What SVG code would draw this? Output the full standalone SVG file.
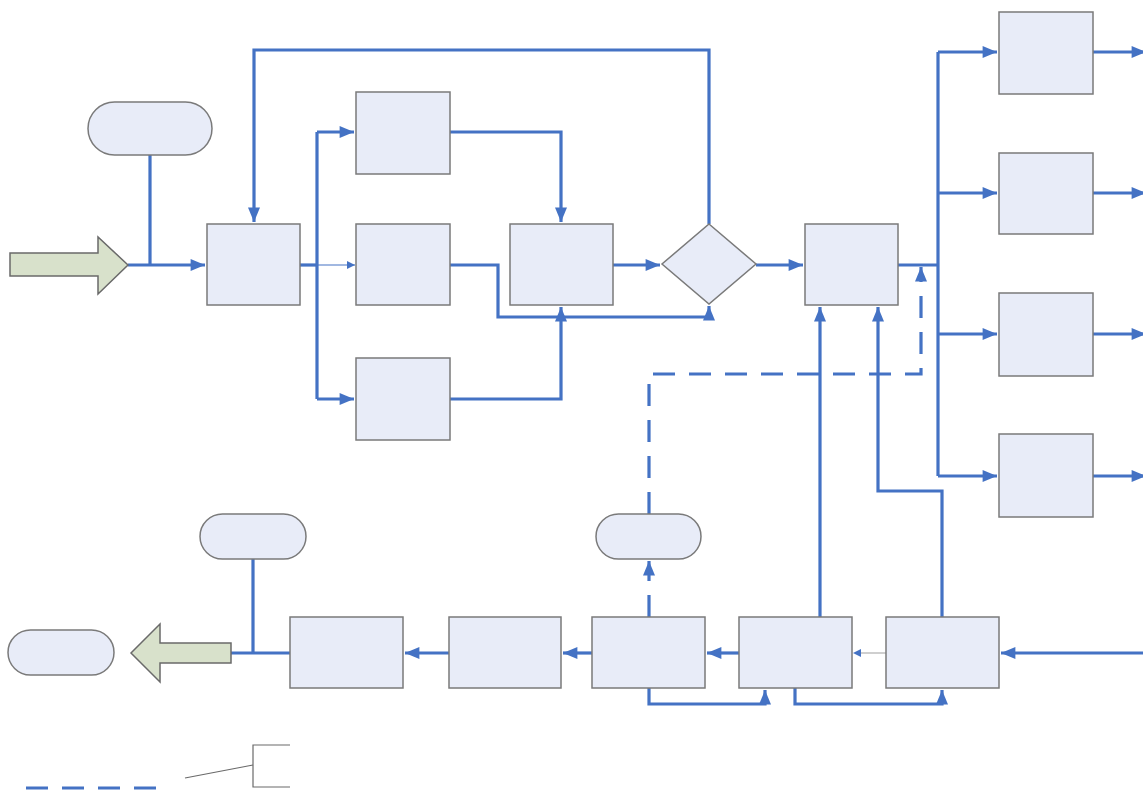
<svg xmlns="http://www.w3.org/2000/svg" width="1143" height="795" viewBox="0 0 1143 795">
<style>
.box{fill:#E8ECF8;stroke:#7a7a7a;stroke-width:1.5}
.big{fill:#D8E1CB;stroke:#6a6a6a;stroke-width:1.5}
.c{fill:none;stroke:#4472C4;stroke-width:3.2}
.thin{fill:none;stroke:#4472C4;stroke-width:1.2}
.gray{fill:none;stroke:#BFBFBF;stroke-width:1.5}
.d{fill:none;stroke:#4472C4;stroke-width:3.2;stroke-dasharray:22,14}
.leg{fill:none;stroke:#6a6a6a;stroke-width:1.2}
</style>
<defs>
<marker id="a" viewBox="0 0 12 10" refX="12" refY="5" markerWidth="15" markerHeight="12" markerUnits="userSpaceOnUse" orient="auto"><path d="M0,0 L12,5 L0,10 Z" fill="#4472C4"/></marker>
<marker id="s" viewBox="0 0 8 8" refX="8" refY="4" markerWidth="8" markerHeight="8" markerUnits="userSpaceOnUse" orient="auto"><path d="M0,0 L8,4 L0,8 Z" fill="#4472C4"/></marker>
</defs>
<rect width="1143" height="795" fill="#fff"/>
<g id="connectors">
<path class="c" d="M128,265 H205" marker-end="url(#a)"/>
<path class="c" d="M150,155 V265"/>
<path class="c" d="M709,224 V50 H254 V222" marker-end="url(#a)"/>
<path class="c" d="M300,265 H317"/>
<path class="thin" d="M317,265 H355" marker-end="url(#s)"/>
<path class="c" d="M317,132 V399"/>
<path class="c" d="M317,132 H354" marker-end="url(#a)"/>
<path class="c" d="M317,399 H354" marker-end="url(#a)"/>
<path class="c" d="M450,132 H561 V222" marker-end="url(#a)"/>
<path class="c" d="M450,265 H498 V317 H709 V306" marker-end="url(#a)"/>
<path class="c" d="M450,399 H561 V307" marker-end="url(#a)"/>
<path class="c" d="M613,265 H660" marker-end="url(#a)"/>
<path class="c" d="M756,265 H803" marker-end="url(#a)"/>
<path class="c" d="M898,265 H938"/>
<path class="c" d="M938,52 V476"/>
<path class="c" d="M938,52 H997" marker-end="url(#a)"/>
<path class="c" d="M938,193 H997" marker-end="url(#a)"/>
<path class="c" d="M938,334 H997" marker-end="url(#a)"/>
<path class="c" d="M938,476 H997" marker-end="url(#a)"/>
<path class="c" d="M1093,52 H1146" marker-end="url(#a)"/>
<path class="c" d="M1093,193 H1146" marker-end="url(#a)"/>
<path class="c" d="M1093,334 H1146" marker-end="url(#a)"/>
<path class="c" d="M1093,476 H1146" marker-end="url(#a)"/>
<path class="c" d="M1143,653 H1001" marker-end="url(#a)"/>
<path class="gray" d="M886,653 H860"/>
<path d="M861,649 L853,653 L861,657 Z" fill="#4472C4"/>
<path class="c" d="M739,653 H707" marker-end="url(#a)"/>
<path class="c" d="M592,653 H563" marker-end="url(#a)"/>
<path class="c" d="M449,653 H405" marker-end="url(#a)"/>
<path class="c" d="M290,653 H231"/>
<path class="c" d="M253,559 V653"/>
<path class="c" d="M649,688 V704 H765 V690" marker-end="url(#a)"/>
<path class="c" d="M795,688 V704 H942 V690" marker-end="url(#a)"/>
<path class="c" d="M820,617 V307" marker-end="url(#a)"/>
<path class="c" d="M942,617 V491 H878 V307" marker-end="url(#a)"/>
<path class="d" d="M649,617 V561" stroke-dasharray="22,12" marker-end="url(#a)"/>
<path class="d" d="M649,514 V374 H921 V267" marker-end="url(#a)"/>
</g>
<g id="input"><path class="big" d="M10,253 H98 V237 L128,265 L98,294 V276 H10 Z"/></g>
<g id="term-top"><rect class="box" x="88" y="102" width="124" height="53" rx="26.5"/></g>
<g id="boxA"><rect class="box" x="207" y="224" width="93" height="81"/></g>
<g id="boxB1"><rect class="box" x="356" y="92" width="94" height="82"/></g>
<g id="boxB2"><rect class="box" x="356" y="224" width="94" height="81"/></g>
<g id="boxB3"><rect class="box" x="356" y="358" width="94" height="82"/></g>
<g id="boxC"><rect class="box" x="510" y="224" width="103" height="81"/></g>
<g id="decision"><path class="box" d="M709,224 L756,264 L709,304 L662,264 Z"/></g>
<g id="boxD"><rect class="box" x="805" y="224" width="93" height="81"/></g>
<g id="boxR1"><rect class="box" x="999" y="12" width="94" height="82"/></g>
<g id="boxR2"><rect class="box" x="999" y="153" width="94" height="81"/></g>
<g id="boxR3"><rect class="box" x="999" y="293" width="94" height="83"/></g>
<g id="boxR4"><rect class="box" x="999" y="434" width="94" height="83"/></g>
<g id="boxE1"><rect class="box" x="290" y="617" width="113" height="71"/></g>
<g id="boxE2"><rect class="box" x="449" y="617" width="112" height="71"/></g>
<g id="boxE3"><rect class="box" x="592" y="617" width="113" height="71"/></g>
<g id="boxE4"><rect class="box" x="739" y="617" width="113" height="71"/></g>
<g id="boxE5"><rect class="box" x="886" y="617" width="113" height="71"/></g>
<g id="term-mid"><rect class="box" x="596" y="514" width="105" height="45" rx="22.5"/></g>
<g id="term-bl"><rect class="box" x="200" y="514" width="106" height="45" rx="22.5"/></g>
<g id="term-out"><rect class="box" x="8" y="630" width="106" height="45" rx="22.5"/></g>
<g id="output"><path class="big" d="M231,643 H160 V624 L131,653 L160,682 V663 H231 Z"/></g>
<g id="legend">
<path class="d" d="M26,788 H165" stroke-dasharray="25,13"/>
<path class="leg" d="M185,778 L253,765"/>
<path class="leg" d="M290,745 H253 V787 H290"/>
</g>
</svg>
